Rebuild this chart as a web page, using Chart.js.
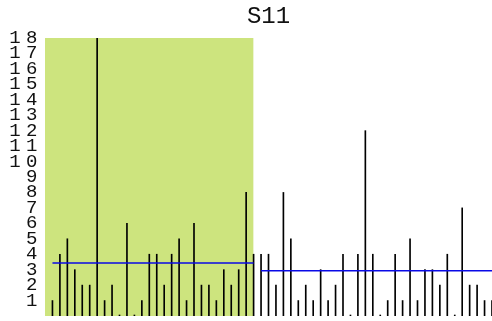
<!DOCTYPE html>
<html>
<head>
<meta charset="utf-8">
<script src="https://cdn.jsdelivr.net/npm/chart.js@4/dist/chart.umd.min.js"></script>
<style>
  html, body { margin: 0; padding: 0; background: #ffffff; }
  #wrap { width: 492px; height: 321px; }
</style>
</head>
<body>
<div id="wrap"><canvas id="c" width="492" height="321"></canvas></div>
<script>
// Sample counts, in order; the first run is the shaded block.
const chartTitle = 'S11';
const firstRun = [1, 4, 5, 3, 2, 2, 18, 1, 2, 0, 6, 0, 1, 4, 4, 2, 4, 5, 1, 6, 2, 2, 1, 3, 2, 3, 8, 4];
const secondRun = [4, 4, 2, 8, 5, 1, 2, 1, 3, 1, 2, 4, 0, 4, 12, 4, 0, 1, 4, 1, 5, 1, 3, 3, 2, 4, 0, 7, 2, 2, 1, 1];
const yTickLabels = ['1', '2', '3', '4', '5', '6', '7', '8', '9', '10', '11', '12', '13', '14', '15', '16', '17', '18'];
const yMax = 18;

const values = firstRun.concat(secondRun);
const positions = values.map((_, i) => i + 1);
const stems = values.map((v, i) => ({ x: positions[i], y: v }));

const mean = arr => arr.reduce((a, b) => a + b, 0) / arr.length;
const firstMean = mean(firstRun);
const secondMean = mean(secondRun);
const firstEnd = firstRun.length;
const lastPos = values.length;

const monoFamily = '"Nimbus Mono PS", "Courier New", Courier, FreeMono, "Liberation Mono", monospace';

// Wide letter spacing for the y tick labels only (they are drawn after the datasets).
const tickSpacing = {
  id: 'tickSpacing',
  afterDatasetsDraw(chart) { chart.ctx.letterSpacing = '5.5px'; },
  afterDraw(chart) { chart.ctx.letterSpacing = '0px'; }
};

new Chart(document.getElementById('c'), {
  type: 'bar',
  data: {
    datasets: [
      {
        type: 'line',
        label: 'block',
        data: [{ x: 0, y: yMax }, { x: firstEnd, y: yMax }],
        fill: 'origin',
        backgroundColor: 'rgb(205,228,126)',
        borderWidth: 0,
        pointRadius: 0,
        order: 3
      },
      {
        type: 'bar',
        label: 'counts',
        data: stems,
        backgroundColor: '#000000',
        borderWidth: 0,
        barThickness: 1,
        minBarLength: 1,
        order: 2
      },
      {
        type: 'line',
        label: 'mean 1',
        data: [{ x: 1, y: firstMean }, { x: firstEnd, y: firstMean }],
        borderColor: '#0a0ae6',
        borderWidth: 1.5,
        pointRadius: 0,
        fill: false,
        order: 1
      },
      {
        type: 'line',
        label: 'mean 2',
        data: [{ x: firstEnd + 1, y: secondMean }, { x: lastPos, y: secondMean }],
        borderColor: '#0a0ae6',
        borderWidth: 1.5,
        pointRadius: 0,
        fill: false,
        order: 1
      }
    ]
  },
  options: {
    responsive: false,
    animation: false,
    events: [],
    layout: { padding: { left: 0, right: 0, top: 0, bottom: 5 } },
    plugins: {
      legend: { display: false },
      tooltip: { enabled: false },
      title: {
        display: true,
        text: chartTitle,
        fullSize: false,
        color: '#111111',
        font: { family: monoFamily, size: 24, weight: 'normal', lineHeight: 1.2 },
        padding: { top: 2.5, bottom: 6.7 }
      }
    },
    scales: {
      x: {
        type: 'linear',
        min: 0,
        max: lastPos,
        display: false,
        offset: false
      },
      y: {
        type: 'linear',
        min: 0,
        max: yMax,
        grid: { display: false, drawTicks: false },
        border: { display: false },
        ticks: {
          stepSize: 1,
          autoSkip: false,
          padding: 2,
          z: 1,
          color: '#111111',
          font: { family: monoFamily, size: 19 },
          callback: v => (v >= 1 && v <= yTickLabels.length) ? yTickLabels[v - 1] : null
        },
        afterFit(scale) {
          scale.width = 45;
          scale.paddingTop = 0;
          scale.paddingBottom = 0;
        }
      }
    }
  },
  plugins: [tickSpacing]
});
</script>
</body>
</html>
